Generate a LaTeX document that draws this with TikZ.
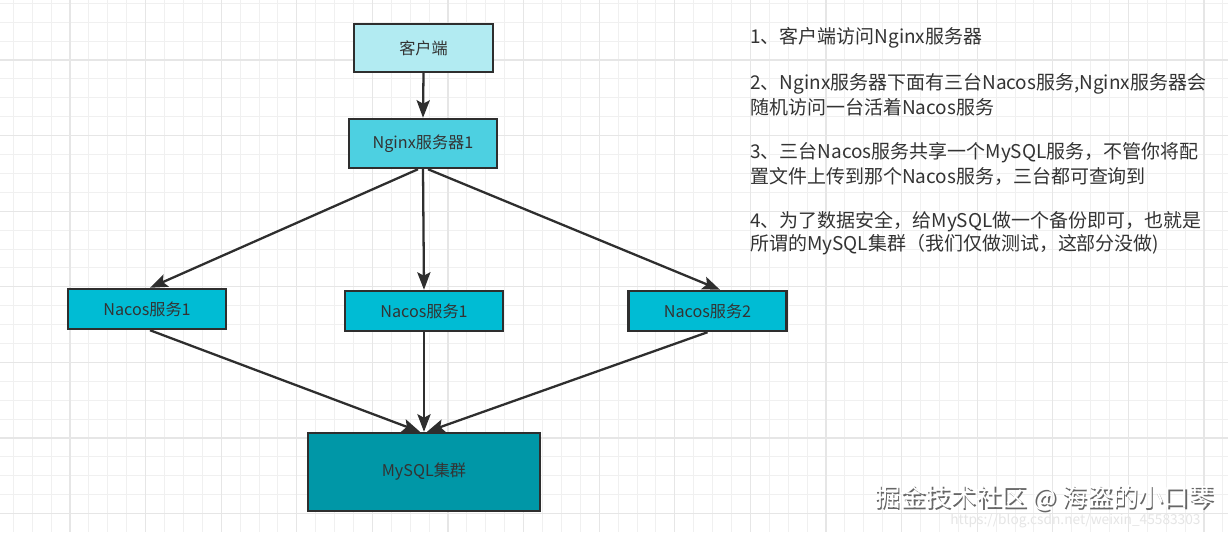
\documentclass[tikz,border=0pt]{standalone}
\usepackage{fontspec}
\newfontfamily\cjk{Noto Sans CJK SC}
\usetikzlibrary{arrows.meta}

\definecolor{clientfill}{HTML}{B2EBF2}
\definecolor{nginxfill}{HTML}{4DD0E1}
\definecolor{nacosfill}{HTML}{00BCD4}
\definecolor{mysqlfill}{HTML}{0097A7}
\definecolor{edgegray}{HTML}{2E2E2E}
\definecolor{textgray}{HTML}{333333}
\definecolor{gridminor}{HTML}{F0F0F0}
\definecolor{gridmajor}{HTML}{E6E6E6}

\tikzset{
  box/.style={draw=edgegray, line width=1.4pt, text=textgray, inner sep=0pt,
    font=\cjk\fontsize{9.2}{11}\selectfont},
  arr/.style={draw=edgegray, line width=1.3pt, -{Stealth[length=10pt,width=7.5pt,inset=2pt]}},
  note/.style={anchor=west, inner sep=0pt, text=textgray, font=\cjk\fontsize{10.8}{13}\selectfont},
}

\begin{document}
\begin{tikzpicture}[x=0.02cm, y=-0.02cm]
  \useasboundingbox (0,0) rectangle (1228,532);
  \fill[white] (0,0) rectangle (1228,532);

  % grid background
  \foreach \i in {0,...,64} \draw[gridminor, line width=0.5pt] ({13.3+18.9*\i},0) -- ++(0,532);
  \foreach \j in {0,...,27} \draw[gridminor, line width=0.5pt] (0,{3.3+18.9*\j}) -- ++(1228,0);
  \foreach \i in {3,7,...,63} \draw[gridmajor, line width=0.6pt] ({13.3+18.9*\i},0) -- ++(0,532);
  \foreach \j in {3,7,...,27} \draw[gridmajor, line width=0.6pt] (0,{3.3+18.9*\j}) -- ++(1228,0);

  % boxes
  \node[box, fill=clientfill, minimum width=2.78cm, minimum height=0.96cm] (client) at (423.5,48) {客户端};
  \node[box, fill=nginxfill, minimum width=2.96cm, minimum height=0.98cm] (nginx) at (423,143.5) {Nginx服务器1};
  \node[box, fill=nacosfill, minimum width=3.16cm, minimum height=0.8cm] (nacosA) at (147,309) {Nacos服务1};
  \node[box, fill=nacosfill, minimum width=3.16cm, minimum height=0.8cm] (nacosB) at (424,311) {Nacos服务1};
  \node[box, fill=nacosfill, minimum width=3.16cm, minimum height=0.8cm] (nacosC) at (707.5,311) {Nacos服务2};
  \node[box, fill=mysqlfill, minimum width=4.64cm, minimum height=1.56cm] (mysql) at (424,472) {MySQL集群};

  % arrows
  \draw[arr] (client.south) -- (nginx.south |- nginx.north);
  \draw[arr] ([xshift=-0.1cm]nginx.south) -- ([xshift=0.06cm]nacosA.north);
  \draw[arr] (nginx.south) -- (nacosB.north);
  \draw[arr] ([xshift=0.1cm]nginx.south) -- ([xshift=0.25cm]nacosC.north);
  \draw[arr] ([xshift=0.06cm]nacosA.south) -- ([xshift=-0.08cm]mysql.north);
  \draw[arr] (nacosB.south) -- (mysql.north);
  \draw[arr] (nacosC.south) -- ([xshift=0.06cm]mysql.north);

  % notes
  \node[note] (l1) at (750,38) {1、客户端访问Nginx服务器};
  \node[note] (l2) at (750,84) {2、Nginx服务器下面有三台Nacos服务,Nginx服务器会};
  \node[note] (l3) at (750,107) {随机访问一台活着Nacos服务};
  \node[note] (l4) at (750,153) {3、三台Nacos服务共享一个MySQL服务，不管你将配};
  \node[note] (l5) at (750,176) {置文件上传到那个Nacos服务，三台都可查询到};
  \node[note] (l6) at (750,222) {4、为了数据安全，给MySQL做一个备份即可，也就是};
  \node[note] (l7) at (750,245) {所谓的MySQL集群（我们仅做测试，这部分没做)};

  % watermark
  \node[anchor=west, inner sep=0pt, text=black!10, font=\cjk\fontsize{7.8}{9}\selectfont] (url) at (950,521) {https://blog.csdn.net/weixin\_45583303};
  \node[anchor=west, inner sep=0pt, text=black!60, font=\cjk\fontsize{14.4}{17}\selectfont] (wmshade) at (876.5,499.5) {掘金技术社区 @ 海盗的小口琴};
  \node[anchor=west, inner sep=0pt, text=white, font=\cjk\fontsize{14.4}{17}\selectfont] (wm) at (875,498) {掘金技术社区 @ 海盗的小口琴};
\end{tikzpicture}
\end{document}
